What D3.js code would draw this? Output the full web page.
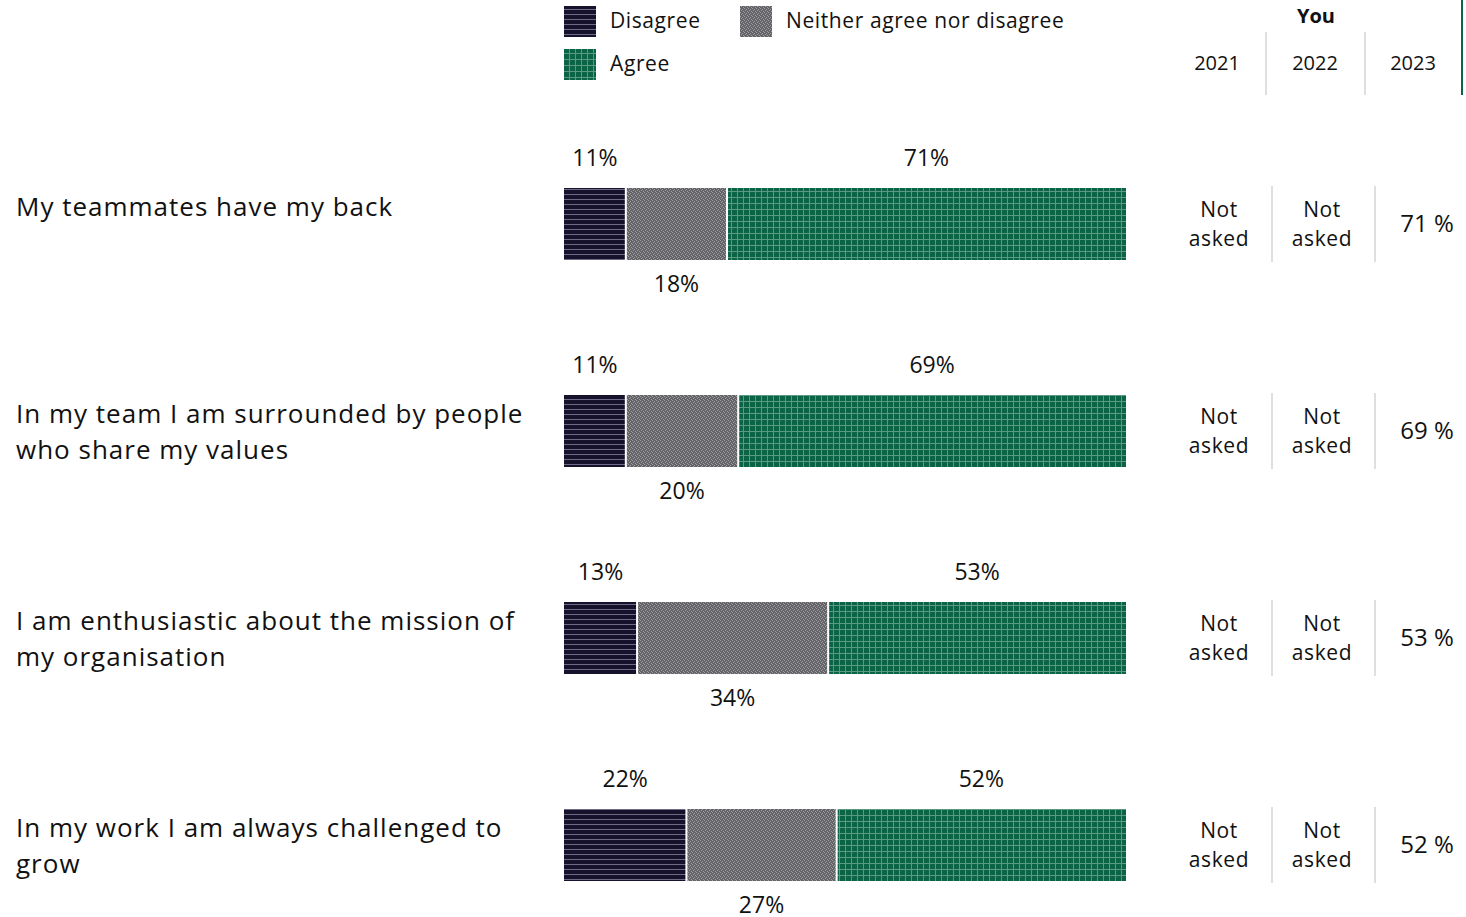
<!DOCTYPE html>
<html>
<head>
<meta charset="utf-8">
<script src="https://cdn.jsdelivr.net/npm/d3@7"></script>
<style>
  body { margin: 0; background: #fff; }
</style>
</head>
<body>
<div id="chart"></div>
<script>
// Chart data
var questions = [
  ["My teammates have my back"],
  ["In my team I am surrounded by people", "who share my values"],
  ["I am enthusiastic about the mission of", "my organisation"],
  ["In my work I am always challenged to", "grow"]
];
var disagree = [11, 11, 13, 22];
var neither = [18, 20, 34, 27];
var agree = [71, 69, 53, 52];
var years = ["2021", "2022", "2023"];
var you2021 = ["Not asked", "Not asked", "Not asked", "Not asked"];
var you2022 = ["Not asked", "Not asked", "Not asked", "Not asked"];
var you2023 = ["71 %", "69 %", "53 %", "52 %"];
var series = ["Disagree", "Neither agree nor disagree", "Agree"];

var font = "Open Sans";
var width = 1466, height = 917;

var svg = d3.select('#chart').append('svg')
  .attr('width', width)
  .attr('height', height)
  .attr('font-family', font)
  .attr('fill', '#111');

// patterns
var defs = svg.append("defs");
var pDis = defs.append("pattern").attr("id", "p0")
  .attr("patternUnits", "userSpaceOnUse").attr("width", 6).attr("height", 5);
pDis.append("rect").attr("width", 6).attr("height", 5).attr("fill", "#17122c");
pDis.append("rect").attr("y", 4).attr("width", 6).attr("height", 1).attr("fill", "#6d6a86");

var pNei = defs.append("pattern").attr("id", "p1")
  .attr("patternUnits", "userSpaceOnUse").attr("width", 4).attr("height", 4);
pNei.append("rect").attr("width", 4).attr("height", 4).attr("fill", "#646468");
[[0,0],[2,1],[1,2],[3,3]].forEach(function (c) {
  pNei.append("rect").attr("x", c[0]).attr("y", c[1]).attr("width", 1).attr("height", 1).attr("fill", "#a0a0a4");
});

var pAgr = defs.append("pattern").attr("id", "p2")
  .attr("patternUnits", "userSpaceOnUse").attr("width", 6).attr("height", 6);
pAgr.append("rect").attr("width", 6).attr("height", 6).attr("fill", "#0c6446");
pAgr.append("rect").attr("x", 5).attr("width", 1).attr("height", 6).attr("fill", "#5a9a81");
pAgr.append("rect").attr("y", 5).attr("width", 6).attr("height", 1).attr("fill", "#5a9a81");

var fills = ["url(#p0)", "url(#p1)", "url(#p2)"];

// layout
var barLeft = 564, barRight = 1126;
var y = d3.scaleBand()
  .domain(d3.range(questions.length))
  .range([84, 912])
  .paddingInner(0);
var barH = 72;
var barOffset = 104; // bar top from band start

// legend
var legendPos = [[564, 6], [740, 6], [564, 49]];
var legend = svg.append("g");
series.forEach(function (s, i) {
  legend.append("rect")
    .attr("x", legendPos[i][0]).attr("y", legendPos[i][1])
    .attr("width", 32).attr("height", 31)
    .attr("fill", fills[i]);
  legend.append("text")
    .attr("x", legendPos[i][0] + 46).attr("y", legendPos[i][1] + 15)
    .attr("dy", "0.35em")
    .attr("font-size", "21px")
    .attr("letter-spacing", "0.6px")
    .text(s);
});

// table header
var colX = d3.scalePoint().domain(years).range([1217, 1413]);
svg.append("text")
  .attr("x", 1316).attr("y", 16).attr("dy", "0.35em")
  .attr("text-anchor", "middle").attr("font-weight", "700")
  .attr("font-size", "20px").text("You");
svg.append("g").selectAll("text").data(years).join("text")
  .attr("x", d => colX(d)).attr("y", 63).attr("dy", "0.35em")
  .attr("text-anchor", "middle").attr("font-size", "20px")
  .text(d => d);
svg.append("g").selectAll("line").data([1266, 1365]).join("line")
  .attr("x1", d => d).attr("x2", d => d).attr("y1", 32).attr("y2", 95)
  .attr("stroke", "#d4d4d4").attr("stroke-width", 1.5);
svg.append("line")
  .attr("x1", 1462).attr("x2", 1462).attr("y1", 0).attr("y2", 95)
  .attr("stroke", "#0c6446").attr("stroke-width", 2);

// rows
questions.forEach(function (q, i) {
  var top = y(i) + barOffset;
  var vals = [disagree[i], neither[i], agree[i]];
  var x = d3.scaleLinear().domain([0, d3.sum(vals)]).range([barLeft, barRight]);
  var stack = d3.cumsum([0].concat(vals));
  var g = svg.append("g");

  g.selectAll("rect").data(vals).join("rect")
    .attr("x", (d, k) => x(stack[k]) + (k > 0 ? 1 : 0))
    .attr("y", top)
    .attr("width", (d, k) => x(stack[k] + d) - x(stack[k]) - (k > 0 ? 1 : 0) - (k < 2 ? 1 : 0))
    .attr("height", barH)
    .attr("fill", (d, k) => fills[k]);

  g.selectAll("text.val").data(vals).join("text")
    .attr("class", "val")
    .attr("x", (d, k) => x(stack[k] + d / 2))
    .attr("y", (d, k) => k === 1 ? top + 96 : top - 30)
    .attr("dy", "0.35em")
    .attr("text-anchor", "middle")
    .attr("font-size", "23px")
    .text(d => d + "%");

  // question label
  g.append("text")
    .attr("x", 16).attr("y", top + 19)
    .attr("font-size", "26px")
    .attr("letter-spacing", "1px")
    .selectAll("tspan").data(q).join("tspan")
    .attr("x", 16)
    .attr("dy", (d, k) => k === 0 ? "0.35em" : "36px")
    .text(d => d);

  // table cells
  [you2021[i], you2022[i]].forEach(function (v, k) {
    var cx = k === 0 ? 1219 : 1322;
    g.append("text")
      .attr("x", cx).attr("y", top + 22)
      .attr("text-anchor", "middle").attr("font-size", "21px")
      .attr("letter-spacing", "0.6px")
      .selectAll("tspan").data(v.split(" ")).join("tspan")
      .attr("x", cx)
      .attr("dy", (d, j) => j === 0 ? "0.35em" : "29px")
      .text(d => d);
  });
  g.append("text")
    .attr("x", 1427).attr("y", top + 36).attr("dy", "0.35em")
    .attr("text-anchor", "middle").attr("font-size", "24px")
    .text(you2023[i]);
  g.selectAll("line").data([1272, 1375]).join("line")
    .attr("x1", d => d).attr("x2", d => d)
    .attr("y1", top - 2).attr("y2", top + 74)
    .attr("stroke", "#d4d4d4").attr("stroke-width", 1.5);
});
</script>
</body>
</html>
